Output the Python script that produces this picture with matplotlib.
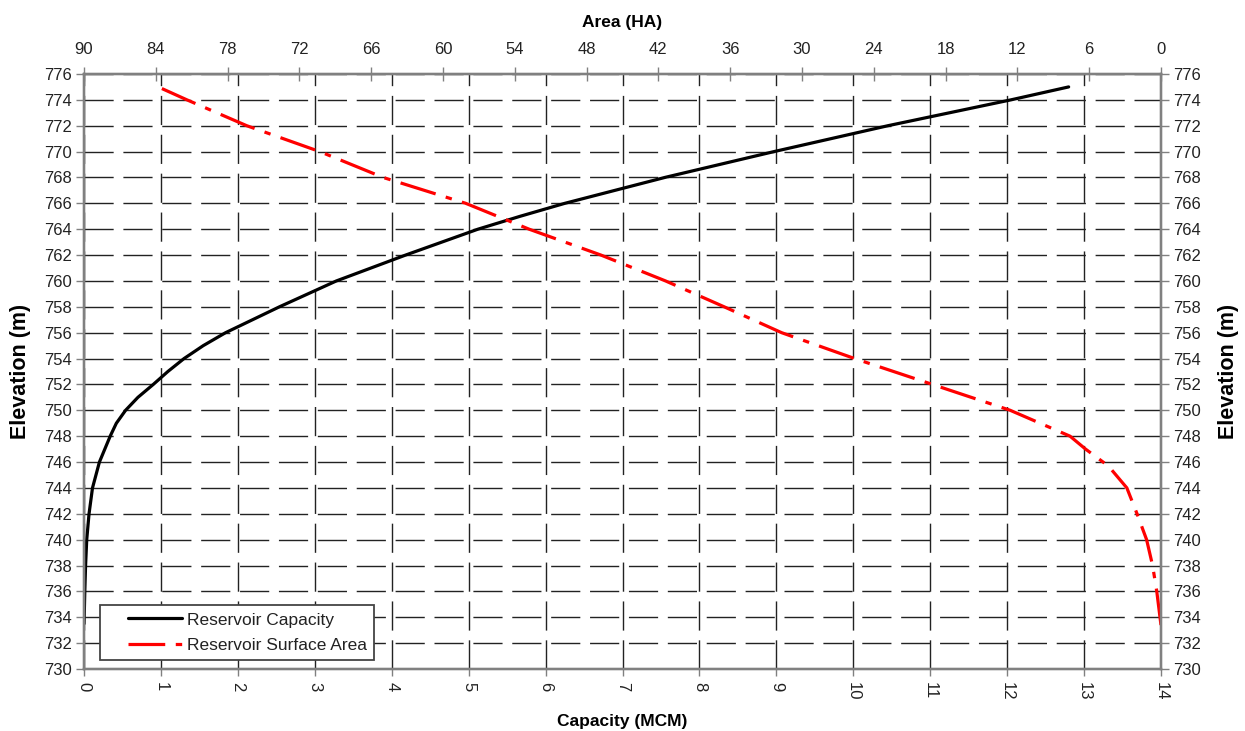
import matplotlib.pyplot as plt
from matplotlib.legend_handler import HandlerLine2D
import numpy as np

plt.rcParams['font.family'] = ['Liberation Sans', 'DejaVu Sans']

# reservoir capacity curve (elevation m, capacity MCM)
cap_elev = [733.5, 736, 738, 740, 742, 744, 746, 748, 749, 750, 751, 752, 753,
            754, 755, 756, 757, 758, 759, 760, 761, 762, 763, 764, 765, 766,
            768, 770, 772, 774, 775]
capacity = [0.0, 0.01, 0.02, 0.035, 0.065, 0.11, 0.2, 0.34, 0.42, 0.54, 0.70,
            0.90, 1.09, 1.30, 1.55, 1.84, 2.19, 2.54, 2.91, 3.28, 3.73, 4.18,
            4.65, 5.12, 5.67, 6.25, 7.55, 8.97, 10.45, 12.05, 12.8]

# reservoir surface area curve (elevation m, area HA)
area_elev = [733.4, 736, 738, 740, 742, 744, 745.7, 747, 748, 750, 752, 754,
             756, 758, 760, 762, 764, 766, 768, 770, 772, 774, 775]
area = [0.0, 0.35, 0.7, 1.2, 2.0, 2.85, 4.4, 6.3, 7.6, 12.6, 19.1, 25.6,
        31.7, 36.5, 41.4, 46.8, 52.8, 58.1, 65.0, 70.3, 76.4, 81.4, 83.8]

cap_ticks = np.arange(0, 15, 1)
area_ticks = np.arange(0, 91, 6)
elev_ticks = np.arange(730, 777, 2)

txt = '#222222'
spine_c = '#808080'

fig = plt.figure(figsize=(12.45, 7.31), dpi=100)
ax = fig.add_axes([0.0675, 0.0848, 0.865, 0.814])

ax.set_xlim(0, 14)
ax.set_ylim(730, 776)
ax.set_xticks(cap_ticks)
ax.set_yticks(elev_ticks)
ax.tick_params(axis='x', labelrotation=-90, labelsize=12, colors=txt,
               direction='out', length=5, width=1, color=spine_c, pad=4)
ax.tick_params(axis='y', labelsize=12, colors=txt, direction='out',
               length=6, width=1, color=spine_c, pad=3)
ax.grid(True, color='#222222', linewidth=1, linestyle=(0, (21, 7)))
ax.set_axisbelow(True)
ax.set_xlabel('Capacity (MCM)', fontsize=12.5, fontweight='bold', labelpad=10)
ax.set_ylabel('Elevation (m)', fontsize=15.5, fontweight='bold', labelpad=9)

l1, = ax.plot(capacity, cap_elev, color='black', lw=2.3,
              label='Reservoir Capacity', solid_capstyle='round')

# top axis: area, reversed
ax_top = ax.twiny()
ax_top.set_xlim(90, 0)
ax_top.set_xticks(area_ticks)
ax_top.tick_params(axis='x', labelsize=12, colors=txt, direction='inout',
                   length=10, width=1, color=spine_c, pad=7)
ax_top.set_xlabel('Area (HA)', fontsize=12.5, fontweight='bold', labelpad=11)
l2, = ax_top.plot(area, area_elev, color='red', lw=2.3,
                  linestyle=(0, (11.5, 3.3, 2, 3.3)),
                  label='Reservoir Surface Area')

# right axis: elevation again
ax_r = ax.twinx()
ax_r.set_ylim(730, 776)
ax_r.set_yticks(elev_ticks)
ax_r.tick_params(axis='y', labelsize=12, colors=txt, direction='out',
                 length=6, width=1, color=spine_c, pad=3)
ax_r.set_ylabel('Elevation (m)', fontsize=15.5, fontweight='bold', labelpad=12)

for a in (ax, ax_top, ax_r):
    for s in a.spines.values():
        s.set_color(spine_c)
        s.set_linewidth(1.6)

hm = {l1: HandlerLine2D(xpad=1.2), l2: HandlerLine2D(xpad=1.2)}
leg = ax_r.legend(handles=[l1, l2], loc='lower left', handler_map=hm,
                  bbox_to_anchor=(0.0149, 0.0151), borderaxespad=0,
                  fontsize=12.5, handlelength=4.3, handletextpad=0.3,
                  borderpad=0.4, labelspacing=0.6,
                  fancybox=False, framealpha=1, edgecolor='#444444')
leg.get_frame().set_linewidth(1.3)
for t in leg.get_texts():
    t.set_color(txt)

fig.savefig('out.png', dpi=100)
